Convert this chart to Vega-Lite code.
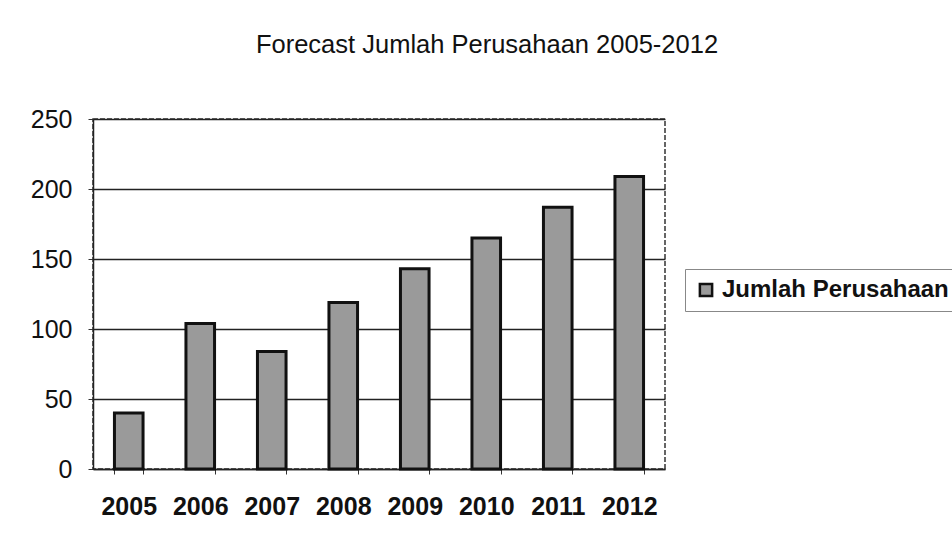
{
  "$schema": "https://vega.github.io/schema/vega-lite/v6.json",
  "width": 572,
  "height": 350,
  "autosize": {"type": "none"},
  "padding": {"left": 93, "top": 119, "right": 287, "bottom": 79},
  "background": "white",
  "title": {
    "text": "Forecast Jumlah Perusahaan 2005-2012",
    "font": "Liberation Sans",
    "fontSize": 25.5,
    "fontWeight": "normal",
    "color": "#111",
    "anchor": "middle",
    "dx": 108,
    "offset": 49
  },
  "data": {
    "values": [
      {"tahun": "2005", "jumlah": 40, "seri": "Jumlah Perusahaan"},
      {"tahun": "2006", "jumlah": 104, "seri": "Jumlah Perusahaan"},
      {"tahun": "2007", "jumlah": 84, "seri": "Jumlah Perusahaan"},
      {"tahun": "2008", "jumlah": 119, "seri": "Jumlah Perusahaan"},
      {"tahun": "2009", "jumlah": 143, "seri": "Jumlah Perusahaan"},
      {"tahun": "2010", "jumlah": 165, "seri": "Jumlah Perusahaan"},
      {"tahun": "2011", "jumlah": 187, "seri": "Jumlah Perusahaan"},
      {"tahun": "2012", "jumlah": 209, "seri": "Jumlah Perusahaan"}
    ]
  },
  "mark": {"type": "bar", "fill": "#9a9a9a", "strokeWidth": 3},
  "encoding": {
    "x": {
      "field": "tahun",
      "type": "nominal",
      "sort": null,
      "scale": {"paddingInner": 0.6, "paddingOuter": 0.3},
      "axis": {
        "title": null,
        "labelAngle": 0,
        "labelFont": "Liberation Sans",
        "labelFontSize": 25,
        "labelFontWeight": "bold",
        "labelColor": "#111",
        "labelPadding": 20,
        "tickBand": "extent",
        "tickSize": 5,
        "tickColor": "#333",
        "domainColor": "#222",
        "domainWidth": 1.5
      }
    },
    "y": {
      "field": "jumlah",
      "type": "quantitative",
      "scale": {"domain": [0, 250]},
      "axis": {
        "title": null,
        "values": [0, 50, 100, 150, 200, 250],
        "labelFont": "Liberation Sans",
        "labelFontSize": 25,
        "labelColor": "#111",
        "labelPadding": 16,
        "tickSize": 5,
        "tickColor": "#333",
        "domainColor": "#222",
        "domainWidth": 1.5,
        "grid": true,
        "gridColor": "#222",
        "gridWidth": 1.5
      }
    },
    "stroke": {
      "field": "seri",
      "type": "nominal",
      "title": null,
      "scale": {"range": ["#111"]},
      "legend": {
        "orient": "none",
        "legendX": 592,
        "legendY": 150,
        "padding": 9,
        "strokeColor": "#888",
        "symbolType": "square",
        "symbolSize": 150,
        "symbolStrokeWidth": 2.5,
        "labelFont": "Liberation Sans",
        "labelFontSize": 24,
        "labelFontWeight": "bold",
        "labelColor": "#111",
        "labelLimit": 400,
        "encode": {
          "symbols": {"update": {"fill": {"value": "#e8e8e8"}}}
        }
      }
    }
  },
  "config": {
    "view": {"stroke": "#333", "strokeWidth": 1.5, "strokeDash": [5, 2]}
  }
}
